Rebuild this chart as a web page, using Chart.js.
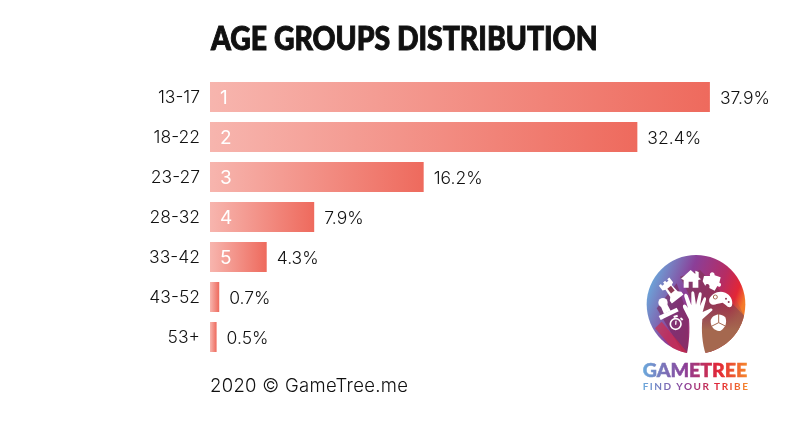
<!DOCTYPE html>
<html>
<head>
<meta charset="utf-8">
<style>
html,body{margin:0;padding:0;background:#fff;width:800px;height:442px;overflow:hidden}
#c{position:absolute;left:0;top:0}
#logo{position:absolute;left:620px;top:240px}
</style>
<script src="https://cdn.jsdelivr.net/npm/chart.js@4/dist/chart.umd.js"></script>
</head>
<body>
<canvas id="c" width="800" height="442"></canvas>
<svg id="logo" width="160" height="170" viewBox="0 0 480 510" xmlns="http://www.w3.org/2000/svg">
<defs>
<linearGradient id="disc" gradientUnits="userSpaceOnUse" x1="100" y1="90" x2="370" y2="190">
<stop offset="0" stop-color="#6aa9dc"/><stop offset=".38" stop-color="#8b3f98"/><stop offset=".72" stop-color="#b62c63"/><stop offset=".9" stop-color="#e32636"/><stop offset="1" stop-color="#f47b2a"/>
</linearGradient>
<linearGradient id="word" gradientUnits="userSpaceOnUse" x1="68" y1="0" x2="384" y2="0">
<stop offset="0" stop-color="#6aa9dc"/><stop offset=".4" stop-color="#8b3f98"/><stop offset=".72" stop-color="#e32636"/><stop offset="1" stop-color="#f68b2c"/>
</linearGradient>
<linearGradient id="brown" gradientUnits="userSpaceOnUse" x1="290" y1="170" x2="290" y2="270">
<stop offset="0" stop-color="#8f4a55" stop-opacity="0"/><stop offset="1" stop-color="#a5684f"/>
</linearGradient>
<clipPath id="cc"><circle cx="228" cy="193" r="148"/></clipPath>
</defs>
<circle cx="228" cy="193" r="148" fill="url(#disc)"/>
<g clip-path="url(#cc)">
<polygon points="110,205 170,130 205,230 205,345 190,340" fill="#7a2a60" opacity=".65"/>
<polygon points="125,245 208,345 175,345 105,265" fill="#d8283f" opacity=".6"/>
<polygon points="180,110 240,90 375,230 375,345 240,345 240,230" fill="#7f3350" opacity=".6"/>
<polygon points="245,170 345,170 380,245 380,345 245,345" fill="url(#brown)"/>
</g>
<g fill="#fff" stroke="none">
<path d="M200 345 C208 310 210 270 207 238 L190 205 C186 195 192 190 198 196 L204 204 L193 170 C191 160 199 158 203 166 L214 196 L214 160 C214 152 222 152 223 160 L228 194 L236 162 C238 154 246 156 245 164 L240 198 L250 176 C254 168 260 172 258 179 L248 216 L270 206 C278 204 280 210 274 214 L247 238 C244 270 246 310 258 345 Z"/>
<path d="M183 116 L212 90 L226 102 L226 92 L236 96 L236 112 L243 118 L235 120 L235 143 L218 143 L218 125 L206 125 L206 143 L191 143 L191 120 Z"/>
<path d="M252 108 L270 108 C266 96 284 92 284 106 L302 112 L298 128 C308 130 302 146 292 138 L284 152 L268 144 C272 132 258 128 256 138 L248 124 Z"/>
<path d="M268 176 C276 160 296 150 316 158 C330 164 340 180 336 196 C334 204 324 204 318 196 L308 188 L290 192 C280 198 264 192 268 176 Z"/>
<path d="M272 240 C278 224 300 216 316 232 C322 248 316 264 302 272 C288 276 270 262 272 240 Z"/>
<g transform="rotate(-38 152 150)">
<path d="M132 118 L140 118 L140 124 L148 124 L148 118 L156 118 L156 124 L164 124 L164 118 L172 118 L172 136 L164 140 L166 166 L174 174 L174 184 L130 184 L130 174 L138 166 L140 140 L132 136 Z"/>
</g>
<circle cx="129" cy="188" r="14"/>
<path d="M122 198 L140 190 L152 212 L132 222 Z"/>
<path d="M116 228 L170 203 L176 214 L122 240 Z"/>
<circle cx="167" cy="252" r="16" fill="none" stroke="#fff" stroke-width="5"/>
<path d="M160 228 L172 224 L174 230 L162 234 Z M183 232 L190 238 L186 242 L180 236 Z M166 242 L170 242 L169 254 L165 254 Z"/>
</g>
<g fill="none" stroke="#a5684f" stroke-width="3">
<path d="M296 222 L296 248 L276 258 M296 248 L316 258"/>
<circle cx="286" cy="171" r="6"/>
</g>
<g fill="#8e3a54">
<rect x="146" y="140" width="14" height="18" transform="rotate(-38 153 149)"/>
<circle cx="318" cy="176" r="3"/><circle cx="326" cy="186" r="3"/>
</g>
<text x="68" y="410" font-family="Lato, sans-serif" font-weight="900" font-size="58" fill="url(#word)" stroke="url(#word)" stroke-width="1.5" textLength="314" lengthAdjust="spacingAndGlyphs">GAMETREE</text>
<text x="68" y="450" font-family="Lato, sans-serif" font-weight="700" font-size="30" fill="url(#word)" textLength="316" lengthAdjust="spacing">FIND YOUR TRIBE</text>
</svg>
<script>
const categories = ['13-17','18-22','23-27','28-32','33-42','43-52','53+'];
const shares = [37.9,32.4,16.2,7.9,4.3,0.7,0.5];
const shareLabels = ['37.9%','32.4%','16.2%','7.9%','4.3%','0.7%','0.5%'];
const ranks = ['1','2','3','4','5','',''];
const chartTitle = 'AGE GROUPS DISTRIBUTION';
const footerText = '2020 \u00A9 GameTree.me';
const LABEL_FONT = '300 17.5px Inter, sans-serif';

const overlay = {
  id:'overlay',
  afterDatasetsDraw(chart){
    const ctx = chart.ctx, meta = chart.getDatasetMeta(0);
    const left = chart.chartArea.left;
    ctx.save();
    ctx.textBaseline='middle'; ctx.textAlign='left';
    meta.data.forEach((bar,i)=>{
      ctx.font=LABEL_FONT; ctx.fillStyle='#111';
      ctx.fillText(shareLabels[i], bar.x+10, bar.y+2);
      if(ranks[i]){ ctx.font='400 19px Inter, sans-serif'; ctx.fillStyle='#fff'; ctx.fillText(ranks[i], left+10, bar.y+1); }
    });
    ctx.font='300 18.5px Inter, sans-serif'; ctx.letterSpacing='0.3px'; ctx.fillStyle='#111';
    ctx.fillText(footerText, left, 386);
    ctx.letterSpacing='0px';
    ctx.translate(left+1,50); ctx.scale(0.86,1);
    ctx.font='900 33px Lato, sans-serif'; ctx.fillStyle='#111'; ctx.strokeStyle='#111'; ctx.lineWidth=1; ctx.textBaseline='alphabetic';
    ctx.fillText(chartTitle,0,0); ctx.strokeText(chartTitle,0,0);
    ctx.restore();
  }
};

new Chart(document.getElementById('c'),{
  type:'bar',
  data:{labels:categories,datasets:[{
    data:shares,
    barPercentage:.75,categoryPercentage:1,borderWidth:0,
    backgroundColor(context){
      const chart=context.chart, s=chart.scales.x, v=shares[context.dataIndex];
      if(!s||v===undefined) return '#f39088';
      const x0=s.getPixelForValue(0), x1=s.getPixelForValue(v);
      if(!Number.isFinite(x0)||!Number.isFinite(x1)) return '#f39088';
      const g=chart.ctx.createLinearGradient(x0,0,x1,0);
      g.addColorStop(0,'#f7b5ae'); g.addColorStop(1,'#ee6a5d');
      return g;
    }
  }]},
  options:{
    indexAxis:'y',responsive:false,animation:false,devicePixelRatio:1,
    layout:{padding:{left:0,right:62.4,top:77,bottom:85}},
    plugins:{legend:{display:false},tooltip:{enabled:false},title:{display:false}},
    scales:{
      x:{min:0,max:40,display:false},
      y:{
        grid:{display:false,drawTicks:false},border:{display:false},
        afterFit(a){a.width=210;},
        ticks:{padding:10,labelOffset:1,color:'#111',font:{family:'Inter, sans-serif',size:17.5,weight:'300'}}
      }
    }
  },
  plugins:[overlay]
});
</script>
</body>
</html>
